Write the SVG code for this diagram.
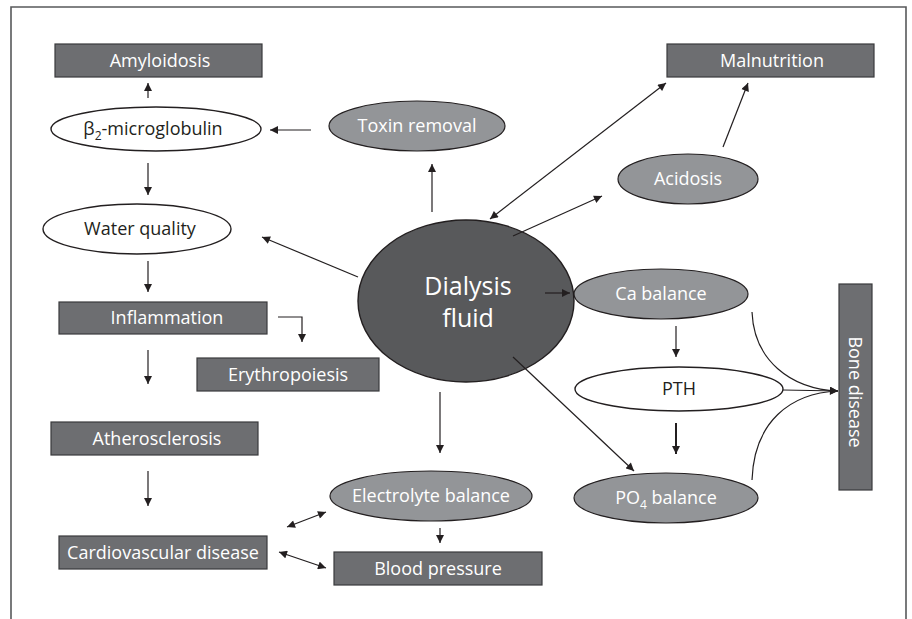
<svg xmlns="http://www.w3.org/2000/svg" width="912" height="619" viewBox="0 0 912 619">
<defs>
<marker id="ah" viewBox="0 0 10 10" refX="10" refY="5" markerWidth="9" markerHeight="8" markerUnits="userSpaceOnUse" orient="auto-start-reverse">
<path d="M0,0 L10,5 L0,10 z" fill="#231f20"/>
</marker>
<style>
.box{fill:#6d6e71;stroke:#3a3a3c;stroke-width:1.2}
.lg{fill:#939598;stroke:#231f20;stroke-width:1.2}
.wh{fill:#ffffff;stroke:#231f20;stroke-width:1.4}
.tw{font-family:"Open Sans","Noto Sans",sans-serif;font-size:18px;fill:#ffffff;text-anchor:middle}
.tb{font-family:"Open Sans","Noto Sans",sans-serif;font-size:18px;fill:#231f20;text-anchor:middle}
.ln{fill:none;stroke:#231f20;stroke-width:1.2}
.a{marker-end:url(#ah)}
.d{marker-start:url(#ah);marker-end:url(#ah)}
</style>
</defs>
<rect width="912" height="619" fill="#ffffff"/>
<path d="M11,619 L11,7 L906,7 L906,619" fill="none" stroke="#58595b" stroke-width="1.6"/>

<g id="amyloidosis"><rect class="box" x="55" y="44" width="207" height="33"/><text class="tw" x="160" y="67">Amyloidosis</text></g>
<g id="b2m"><ellipse class="wh" cx="156" cy="129" rx="105" ry="22"/><text class="tb" x="153" y="135">β<tspan font-size="12" dy="5">2</tspan><tspan dy="-5">-microglobulin</tspan></text></g>
<g id="toxin"><ellipse class="lg" cx="417" cy="126" rx="88" ry="25"/><text class="tw" x="417" y="132">Toxin removal</text></g>
<g id="water"><ellipse class="wh" cx="137" cy="229" rx="94" ry="25"/><text class="tb" x="140" y="235">Water quality</text></g>
<g id="inflammation"><rect class="box" x="59" y="302" width="208" height="32"/><text class="tw" x="167" y="324">Inflammation</text></g>
<g id="erythropoiesis"><rect class="box" x="197" y="358" width="182" height="33"/><text class="tw" x="288" y="381">Erythropoiesis</text></g>
<g id="atherosclerosis"><rect class="box" x="51" y="422" width="207" height="33"/><text class="tw" x="157" y="445">Atherosclerosis</text></g>
<g id="cvd"><rect class="box" x="59" y="536" width="208" height="33"/><text class="tw" x="163" y="559">Cardiovascular disease</text></g>
<g id="dialysis"><ellipse cx="466" cy="301" rx="108" ry="81" fill="#58595b" stroke="#231f20" stroke-width="1.4"/><text class="tw" style="font-size:25px" x="468" y="295">Dialysis</text><text class="tw" style="font-size:25px" x="468" y="327">fluid</text></g>
<g id="malnutrition"><rect class="box" x="667" y="44" width="207" height="33"/><text class="tw" x="772" y="67">Malnutrition</text></g>
<g id="acidosis"><ellipse class="lg" cx="688" cy="179" rx="70" ry="25"/><text class="tw" x="688" y="185">Acidosis</text></g>
<g id="ca"><ellipse class="lg" cx="661" cy="294" rx="87" ry="25"/><text class="tw" x="661" y="300">Ca balance</text></g>
<g id="pth"><ellipse class="wh" cx="679" cy="389" rx="104" ry="22"/><text class="tb" x="679" y="395">PTH</text></g>
<g id="po4"><ellipse class="lg" cx="666" cy="498" rx="92" ry="25"/><text class="tw" x="666" y="504">PO<tspan font-size="12" dy="5">4</tspan><tspan dy="-5"> balance</tspan></text></g>
<g id="bone"><rect class="box" x="839" y="284" width="33" height="206"/><text class="tw" transform="translate(849,392) rotate(90)" x="0" y="0">Bone disease</text></g>
<g id="electrolyte"><ellipse class="lg" cx="431" cy="496" rx="101" ry="25"/><text class="tw" x="431" y="502">Electrolyte balance</text></g>
<g id="bp"><rect class="box" x="334" y="552" width="208" height="33"/><text class="tw" x="438" y="575">Blood pressure</text></g>

<g id="connectors">
<line class="ln a" x1="148" y1="98" x2="148" y2="83"/>
<line class="ln a" x1="311" y1="130" x2="270" y2="130"/>
<line class="ln a" x1="148" y1="163" x2="148" y2="195"/>
<line class="ln a" x1="432" y1="212" x2="432" y2="164"/>
<line class="ln a" x1="358" y1="277" x2="262" y2="237"/>
<line class="ln a" x1="148" y1="261" x2="148" y2="292"/>
<polyline class="ln a" points="278,317 302,317 302,342"/>
<line class="ln a" x1="148" y1="350" x2="148" y2="384"/>
<line class="ln a" x1="148" y1="471" x2="148" y2="506"/>
<line class="ln d" x1="490" y1="219" x2="666" y2="83"/>
<line class="ln a" x1="513" y1="236" x2="602" y2="196"/>
<line class="ln a" x1="723" y1="147" x2="748" y2="83"/>
<line class="ln a" x1="545" y1="293" x2="570" y2="293"/>
<line class="ln a" x1="676" y1="326" x2="676" y2="357"/>
<line class="ln a" x1="676" y1="423" x2="676" y2="454" style="stroke-width:2"/>
<line class="ln a" x1="513" y1="357" x2="634" y2="471"/>
<line class="ln a" x1="783" y1="390" x2="838" y2="391"/>
<path class="ln a" d="M752,312 C754,360 790,389 838,391"/>
<path class="ln" d="M752,480 C754,422 790,393 838,391"/>
<line class="ln a" x1="440" y1="392" x2="440" y2="453"/>
<line class="ln a" x1="440" y1="528" x2="440" y2="543"/>
<line class="ln d" x1="287" y1="527" x2="326" y2="512"/>
<line class="ln d" x1="279" y1="552" x2="326" y2="568"/>
</g>
</svg>
